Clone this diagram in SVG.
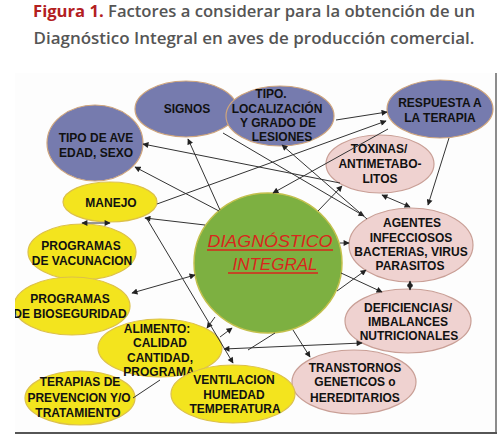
<svg xmlns="http://www.w3.org/2000/svg" width="500" height="439" viewBox="0 0 500 439">
<style>
.ttl{font-family:"Open Sans","Liberation Sans",sans-serif;font-size:16px;font-weight:600;fill:#555}
.red{fill:#b3201f;font-weight:700}
.blue{fill:#767bae;stroke:#cfa57c;stroke-width:1.2}
.pink{fill:#efd2d0;stroke:#c99f96;stroke-width:1.2}
.yel{fill:#f3e41e;stroke:#dcc04a;stroke-width:1.2}
.grn{fill:#7db041;stroke:#c3c04c;stroke-width:1.5}
.t{font-family:"Liberation Sans",Arial,sans-serif;font-size:12px;font-weight:700;fill:#111;text-anchor:middle}
.dg{font-family:"Liberation Sans",Arial,sans-serif;font-size:17px;font-style:italic;fill:#d9261c;text-anchor:middle}
.ul{stroke:#d9261c;stroke-width:1.3}
.c line{stroke:#333;stroke-width:1;fill:none}
</style>
<defs>
<marker id="ah" viewBox="0 0 10 10" refX="9" refY="5" markerWidth="7" markerHeight="6" markerUnits="userSpaceOnUse" orient="auto-start-reverse">
<path d="M0,0 L10,5 L0,10 z" fill="#222"/>
</marker>
<clipPath id="frame"><rect x="15" y="73" width="481" height="360"/></clipPath>
</defs>
<rect width="500" height="439" fill="#fff"/>
<text class="ttl" x="254" y="17" text-anchor="middle" textLength="442" lengthAdjust="spacingAndGlyphs"><tspan class="red">Figura 1.</tspan> Factores a considerar para la obtención de un</text>
<text class="ttl" x="254" y="44" text-anchor="middle" textLength="441" lengthAdjust="spacingAndGlyphs">Diagnóstico Integral en aves de producción comercial.</text>
<g clip-path="url(#frame)">
<rect x="15" y="73" width="481" height="360" fill="#fdfdfd"/>
<g id="n-signos"><ellipse class="blue" cx="186" cy="109" rx="51" ry="28"/><text class="t" x="187" y="113">SIGNOS</text></g>
<g id="n-tipoave"><ellipse class="blue" cx="95" cy="143" rx="48" ry="38"/><text class="t" x="96" y="142">TIPO DE AVE</text><text class="t" x="96" y="157">EDAD, SEXO</text></g>
<g id="n-lesiones"><ellipse class="blue" cx="280" cy="116" rx="54" ry="30"/><text class="t" x="271" y="98">TIPO.</text><text class="t" x="277" y="113">LOCALIZACIÓN</text><text class="t" x="278" y="127">Y GRADO DE</text><text class="t" x="282" y="141">LESIONES</text></g>
<g id="n-respuesta"><ellipse class="blue" cx="440" cy="109" rx="53" ry="29"/><text class="t" x="440" y="107">RESPUESTA A</text><text class="t" x="440" y="122">LA TERAPIA</text></g>
<g id="n-toxinas"><ellipse class="pink" cx="380" cy="164" rx="54" ry="29"/><text class="t" x="379" y="153">TOXINAS/</text><text class="t" x="380" y="168">ANTIMETABO-</text><text class="t" x="380" y="183">LITOS</text></g>
<g id="n-agentes"><ellipse class="pink" cx="411" cy="245" rx="62" ry="37"/><text class="t" x="412" y="227">AGENTES</text><text class="t" x="411" y="242">INFECCIOSOS</text><text class="t" x="411" y="256">BACTERIAS, VIRUS</text><text class="t" x="410" y="270">PARASITOS</text></g>
<g id="n-deficiencias"><ellipse class="pink" cx="408" cy="321" rx="63" ry="32"/><text class="t" x="408" y="312">DEFICIENCIAS/</text><text class="t" x="408" y="326">IMBALANCES</text><text class="t" x="409" y="340">NUTRICIONALES</text></g>
<g id="n-transtornos"><ellipse class="pink" cx="354" cy="382" rx="62" ry="32"/><text class="t" x="355" y="372">TRANSTORNOS</text><text class="t" x="355" y="386">GENETICOS o</text><text class="t" x="355" y="402">HEREDITARIOS</text></g>
<g id="n-manejo"><ellipse class="yel" cx="110" cy="202" rx="47" ry="20"/><text class="t" x="111" y="207">MANEJO</text></g>
<g id="n-vacunacion"><ellipse class="yel" cx="82" cy="252" rx="54" ry="28"/><text class="t" x="81" y="250">PROGRAMAS</text><text class="t" x="82" y="265">DE VACUNACION</text></g>
<g id="n-bioseguridad"><ellipse class="yel" cx="72" cy="306" rx="58" ry="29"/><text class="t" x="70" y="303">PROGRAMAS</text><text class="t" x="70" y="318">DE BIOSEGURIDAD</text></g>
<g id="n-terapias"><ellipse class="yel" cx="80" cy="398" rx="55" ry="27"/><text class="t" x="80" y="386">TERAPIAS DE</text><text class="t" x="79" y="402">PREVENCION Y/O</text><text class="t" x="78" y="417">TRATAMIENTO</text></g>
<g id="n-alimento"><ellipse class="yel" cx="160" cy="348" rx="62" ry="29"/><text class="t" x="157" y="333">ALIMENTO:</text><text class="t" x="160" y="347">CALIDAD</text><text class="t" x="160" y="362">CANTIDAD,</text><text class="t" x="159" y="376">PROGRAMA</text></g>
<g id="n-ventilacion"><ellipse class="yel" cx="233" cy="394" rx="62" ry="29"/><text class="t" x="234" y="384">VENTILACION</text><text class="t" x="234" y="399">HUMEDAD</text><text class="t" x="235" y="413">TEMPERATURA</text></g>
<g id="n-diagnostico"><ellipse class="grn" cx="268" cy="263" rx="74" ry="70"/><text class="dg" x="270" y="247" textLength="125" lengthAdjust="spacingAndGlyphs">DIAGNÓSTICO</text><line class="ul" x1="207" y1="250" x2="333" y2="250"/><text class="dg" x="275" y="270" textLength="85" lengthAdjust="spacingAndGlyphs">INTEGRAL</text><line class="ul" x1="228" y1="273" x2="318" y2="273"/></g>
<g id="connectors" class="c">
<line x1="336" y1="120" x2="387" y2="112" marker-end="url(#ah)"/>
<line x1="157" y1="204" x2="386" y2="121" marker-end="url(#ah)"/>
<line x1="388" y1="129" x2="273" y2="193" marker-end="url(#ah)"/>
<line x1="340" y1="183" x2="143" y2="144" marker-end="url(#ah)"/>
<line x1="219" y1="211" x2="135" y2="167" marker-end="url(#ah)"/>
<line x1="220" y1="210" x2="188" y2="139" marker-end="url(#ah)"/>
<line x1="223" y1="133" x2="364" y2="216" marker-end="url(#ah)"/>
<line x1="367" y1="219" x2="282" y2="145" marker-end="url(#ah)"/>
<line x1="318" y1="211" x2="342" y2="186" marker-end="url(#ah)"/>
<line x1="382" y1="195" x2="410" y2="207" marker-start="url(#ah)" marker-end="url(#ah)"/>
<line x1="449" y1="138" x2="428" y2="205" marker-end="url(#ah)"/>
<line x1="340" y1="243" x2="349" y2="243" marker-end="url(#ah)"/>
<line x1="337" y1="291" x2="366" y2="270" marker-end="url(#ah)"/>
<line x1="341" y1="273" x2="382" y2="292" marker-end="url(#ah)"/>
<line x1="410" y1="281" x2="410" y2="290" marker-start="url(#ah)" marker-end="url(#ah)"/>
<line x1="224" y1="349" x2="362" y2="343" marker-start="url(#ah)" marker-end="url(#ah)"/>
<line x1="248" y1="350" x2="275" y2="333"/>
<line x1="220" y1="337" x2="232" y2="328" marker-end="url(#ah)"/>
<line x1="215" y1="317" x2="207" y2="328" marker-end="url(#ah)"/>
<line x1="147" y1="219" x2="233" y2="363" marker-end="url(#ah)"/>
<line x1="205" y1="225" x2="145" y2="218" marker-end="url(#ah)"/>
<line x1="82" y1="223" x2="110" y2="223" marker-start="url(#ah)" marker-end="url(#ah)"/>
<line x1="132" y1="293" x2="195" y2="275" marker-start="url(#ah)" marker-end="url(#ah)"/>
<line x1="133" y1="398" x2="160" y2="380"/>
<line x1="293" y1="330" x2="310" y2="357" marker-end="url(#ah)"/>
</g>
</g>
<line x1="496" y1="73" x2="496" y2="433" stroke="#666" stroke-width="1.5"/>
<line x1="15" y1="433" x2="497" y2="433" stroke="#555" stroke-width="2"/>
</svg>
